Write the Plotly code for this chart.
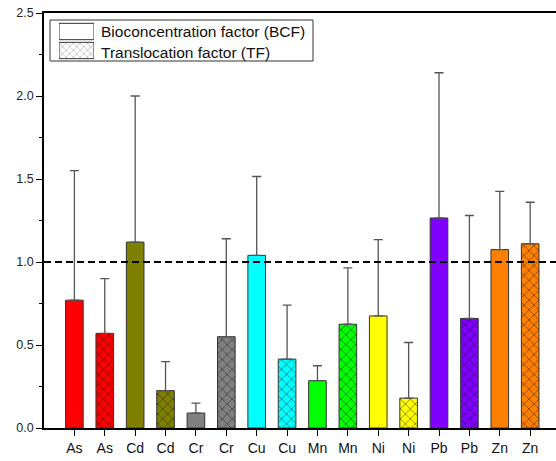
import plotly.graph_objects as go

elements = ["As", "Cd", "Cr", "Cu", "Mn", "Ni", "Pb", "Zn"]
colors = ["#FF0000", "#808000", "#808080", "#00FFFF", "#00FF00", "#FFFF00", "#7F00FF", "#FF8000"]
bcf_values = [0.77, 1.12, 0.09, 1.04, 0.285, 0.675, 1.265, 1.075]
bcf_errors = [0.78, 0.88, 0.06, 0.475, 0.09, 0.46, 0.875, 0.35]
tf_values = [0.57, 0.225, 0.55, 0.415, 0.625, 0.18, 0.66, 1.11]
tf_errors = [0.33, 0.175, 0.59, 0.325, 0.34, 0.335, 0.62, 0.25]
tick_labels = [e for e in elements for _ in range(2)]
y_ticks = [0.0, 0.5, 1.0, 1.5, 2.0, 2.5]
reference_line = 1.0
legend_names = ["Bioconcentration factor (BCF)", "Translocation factor (TF)"]

W, H = 556, 461
ML, MR, MT, MB = 44, 0, 13, 33
PW, PH = W - ML - MR, H - MT - MB


def px(fx):
    return (fx - ML) / PW


def py(fy):
    return (H - MB - fy) / PH


err_style = dict(type="data", symmetric=False, color="#555555", thickness=1.3, width=4.5)
outline = dict(color="#333333", width=1)

fig = go.Figure()
for i, el in enumerate(elements):
    fig.add_trace(go.Bar(
        x=[2 * i], y=[bcf_values[i]], width=0.58, showlegend=False,
        marker=dict(color=colors[i], line=outline),
        error_y=dict(array=[bcf_errors[i]], arrayminus=[0], **err_style),
    ))
    fig.add_trace(go.Bar(
        x=[2 * i + 1], y=[tf_values[i]], width=0.58, showlegend=False,
        marker=dict(color=colors[i], line=outline,
                    pattern=dict(shape="x", fgcolor="#1a1a1a", bgcolor=colors[i], size=7,
                                 solidity=0.13, fillmode="replace")),
        error_y=dict(array=[tf_errors[i]], arrayminus=[0], **err_style),
    ))

# legend symbols (drawn as small bars on a hidden axis pair)
fig.add_trace(go.Bar(
    y=[1, 0], x=[1, 1], orientation="h", width=0.86, xaxis="x2", yaxis="y2",
    showlegend=False, hoverinfo="skip",
    marker=dict(color="white", line=outline,
                pattern=dict(shape=["", "x"], fgcolor="#444444", bgcolor="white",
                             size=5, solidity=0.2)),
))

fig.add_hline(y=reference_line, line=dict(color="black", width=2, dash="7px,4px"))

# legend frame and text
fig.add_shape(type="rect", xref="paper", yref="paper",
              x0=px(50), x1=px(313), y0=py(61), y1=py(20),
              line=dict(color="#333333", width=1), fillcolor="white", layer="below")
for name, fy in zip(legend_names, [32, 52]):
    fig.add_annotation(text=name, xref="paper", yref="paper", x=px(99), y=py(fy),
                       xanchor="left", yanchor="middle", showarrow=False,
                       font=dict(size=15.5, color="#111111"))

fig.update_layout(
    width=W, height=H,
    margin=dict(l=ML, r=MR, t=MT, b=MB, autoexpand=False),
    paper_bgcolor="white", plot_bgcolor="white",
    barmode="overlay", showlegend=False,
    font=dict(family="Liberation Sans, Arial, sans-serif", color="#222222", size=13),
    xaxis=dict(
        range=[-1, 15.85], tickmode="array", automargin=False,
        tickvals=list(range(len(tick_labels))), ticktext=tick_labels,
        tickfont=dict(size=14, color="#111111"), ticklabeloverflow="allow",
        showline=True, linecolor="black", linewidth=1.5, mirror=True,
        ticks="outside", ticklen=6, tickcolor="black", showgrid=False, zeroline=False,
    ),
    yaxis=dict(
        range=[0, 2.5], tickmode="array", tickvals=y_ticks,
        ticktext=[f"{v:.1f}" for v in y_ticks], automargin=False,
        tickfont=dict(size=12.5, color="#222222"), ticklabeloverflow="allow",
        showline=True, linecolor="black", linewidth=1.5,
        ticks="outside", ticklen=6, tickcolor="black", showgrid=False, zeroline=False,
        minor=dict(ticks="outside", ticklen=3, dtick=0.25, tick0=0, tickcolor="black",
                   showgrid=False),
    ),
    xaxis2=dict(domain=[px(59), px(94)], range=[0, 1], visible=False, anchor="y2",
                fixedrange=True),
    yaxis2=dict(domain=[py(60), py(22)], range=[-0.5, 1.5], visible=False, anchor="x2",
                fixedrange=True),
)

fig.write_html("out.html", config={"displayModeBar": False},
               post_script="document.body.style.margin='0px';document.body.style.overflow='hidden';")
